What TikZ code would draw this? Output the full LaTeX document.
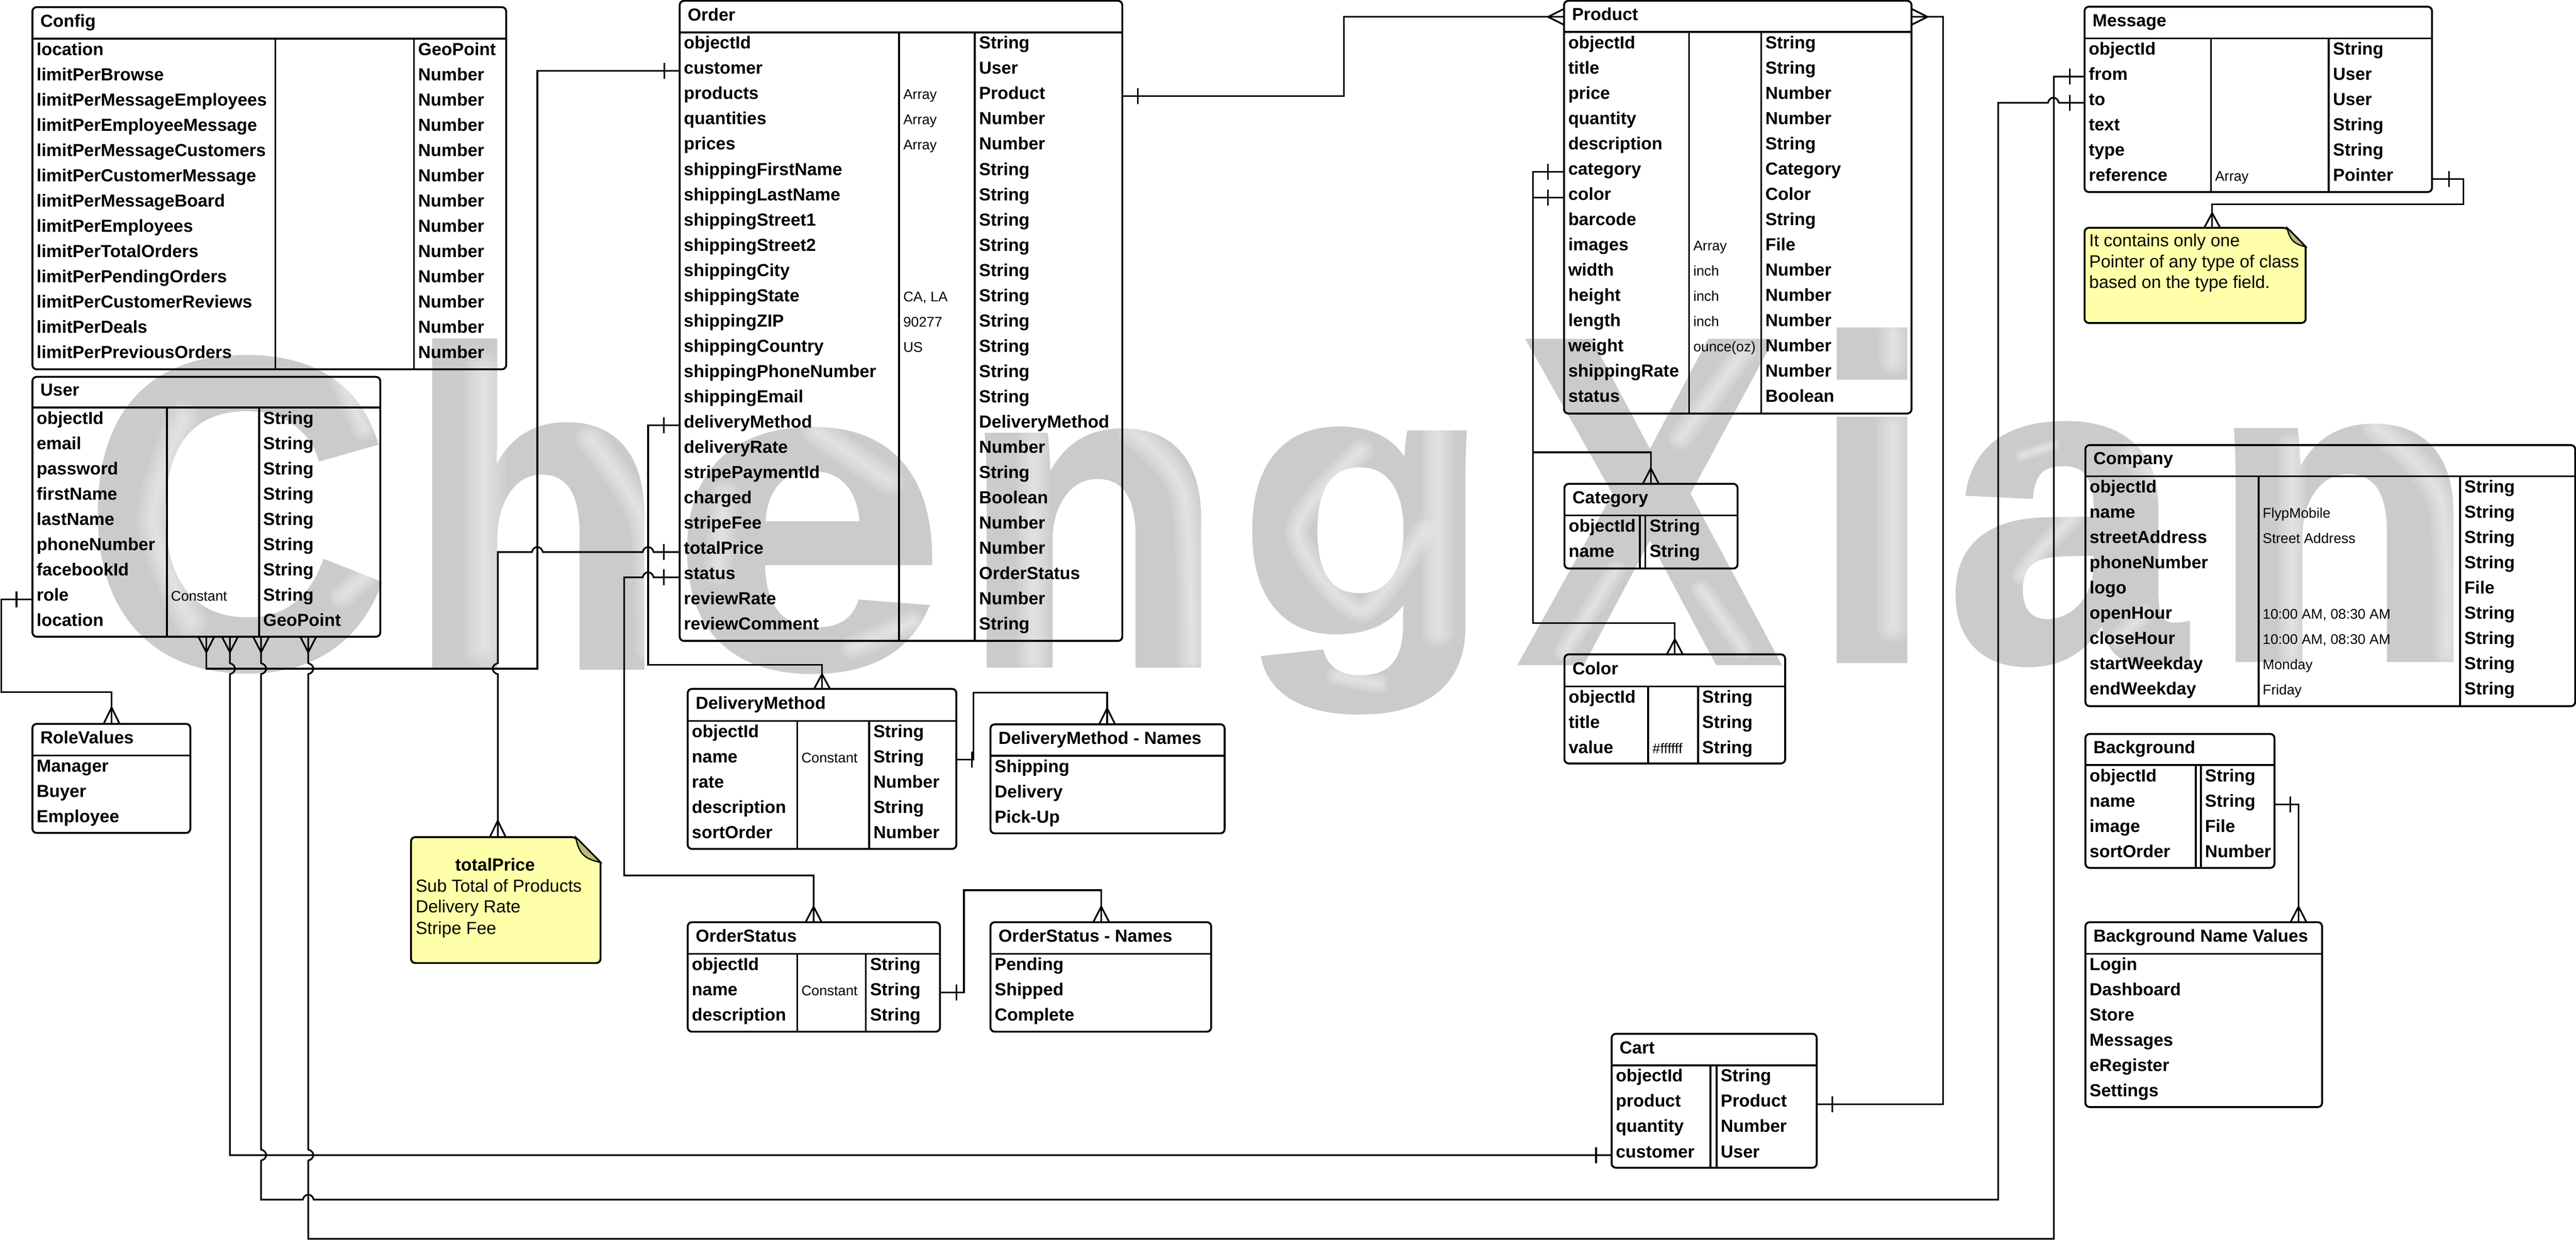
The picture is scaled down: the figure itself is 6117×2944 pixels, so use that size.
\documentclass[tikz,border=0pt]{standalone}
\usepackage{fontspec}
\usepackage{graphicx}
\setmainfont{Liberation Sans}
\newfontfamily\wmfont{Liberation Sans Bold}[FakeBold=1.4]
\definecolor{notefill}{RGB}{255,255,170}
\definecolor{notefold}{RGB}{190,185,120}
\definecolor{wmark}{RGB}{203,203,203}
\tikzset{
  every node/.style={inner sep=0pt,outer sep=0pt},
  tablebox/.style={draw=black,line width=4.5pt,rounded corners=10pt},
  rule/.style={line width=4.5pt},
  conn/.style={draw=black,line width=4pt},
  boldtxt/.style={anchor=base west,font=\bfseries\fontsize{41.5}{50}\selectfont},
  smalltxt/.style={anchor=base west,font=\fontsize{33.3}{40}\selectfont},
  notetxt/.style={anchor=base west,font=\fontsize{41.5}{50}\selectfont},
  wmletter/.style={anchor=base west,text=wmark,font=\wmfont\fontsize{1065}{1200}\selectfont},
}
\def\setgeo#1,#2,#3,#4,#5;{\def\gL{#1}\def\gT{#2}\def\gR{#3}\def\gB{#4}\def\gH{#5}}
\def\setcol#1,#2;{\def\cA{#1}\def\cB{#2}}
\newcommand\tablehead[2]{%
  \node[tablebox,minimum width={(\gR-\gL)*1pt},minimum height={(\gB-\gT)*1pt}] (#1) at ({(\gL+\gR)/2},{(\gT+\gB)/2}) {};
  \draw[rule] (#1.west |- 0,\gH) -- (#1.east |- 0,\gH);
  \node[boldtxt] (#1-title) at ({\gL+19},{\gH-28}) {#2};
}
% name; l,t,r,b,header; title; col1,col2; rows
\newcommand\ertable[5]{%
  \setgeo#2;\setcol#4;
  \tablehead{#1}{#3}
  \draw[rule] (\cA,\gH) -- (\cA,\gB);
  \draw[rule] (\cB,\gH) -- (\cB,\gB);
  \foreach \fa/\fb/\fc [count=\ri from 0] in {#5}{
    \node[boldtxt] (#1-a\ri) at ({\gL+10},{\gH+39+60*\ri}) {\fa};
    \ifx\fb\empty\else\node[smalltxt] (#1-b\ri) at ({\cA+10},{\gH+39+60*\ri}) {\fb};\fi
    \node[boldtxt] (#1-c\ri) at ({\cB+10},{\gH+39+60*\ri}) {\fc};
  }
}
\newcommand\ervalues[4]{%
  \setgeo#2;
  \tablehead{#1}{#3}
  \foreach \fa [count=\ri from 0] in {#4}{
    \node[boldtxt] (#1-a\ri) at ({\gL+10},{\gH+39+60*\ri}) {\fa};
  }
}
% hops: x,y,direction / side
\newcommand\hopH[3]{-- ({#1-13*#3},#2) .. controls ({#1-9*#3},{#2-16}) and ({#1+9*#3},{#2-16}) .. ({#1+13*#3},#2)}
\newcommand\hopV[3]{-- (#1,{#2-13}) .. controls ({#1+16*#3},{#2-9}) and ({#1+16*#3},{#2+9}) .. (#1,{#2+13})}
\newcommand\tick[2]{\draw[conn] (#1,{#2-19}) -- (#1,{#2+19});}
\newcommand\crowV[3]{\draw[conn] ({#1-19},#3) -- (#1,#2) -- ({#1+19},#3);}
\newcommand\crowH[3]{\draw[conn] (#2,{#3-19}) -- (#1,#3) -- (#2,{#3+19});}
% soft white highlight on the watermark: invisible on the white ground
\newcommand\softline[2]{\foreach \sw in {1,.85,.7,.55,.4,.25,.1}{\draw[white,draw opacity=.085,line width={\sw*#1*1pt},line cap=round,line join=round] plot[smooth] coordinates {#2};}}
\begin{document}
\begin{tikzpicture}[x=1pt,y=-1pt]
\useasboundingbox (0,0) rectangle (6117,2944);
\fill[white] (0,0) rectangle (6117,2944);
% watermark
\node[wmletter] (wmC) at (198,1582) {\scalebox{.947}[.984]{C}};
\node[wmletter] (wmH) at (962,1583) {\scalebox{.96}[1]{h}};
\node[wmletter] (wmE) at (1594,1583) {\scalebox{1.1}[.98]{e}};
\node[wmletter] (wmN) at (2278,1578) {\scalebox{.97}[.965]{n}};
\node[wmletter] (wmG) at (2940,1501) {\scalebox{.925}[.84]{g}};
\node[wmletter] (wmX) at (3607,1572) {\scalebox{.874}[1.037]{X}};
\node[wmletter] (wmI) at (4292,1567) {\scalebox{1.04}[1.013]{i}};
\node[wmletter] (wmA) at (4621,1567) {\scalebox{.955}[.977]{a}};
\node[wmletter] (wmM) at (5243,1565) {\scalebox{.985}[.962]{n}};
% emboss highlights
\softline{80}{(436,992) (364,1235) (454,1477)}
\softline{60}{(811,901) (864,1017)}
\softline{60}{(811,1417) (882,1356)}
\softline{100}{(1150,883) (1150,1538)}
\softline{70}{(1400,1041) (1525,1235) (1543,1538)}
\softline{70}{(1722,1174) (1704,1356)}
\softline{70}{(1936,1023) (2114,1144)}
\softline{60}{(2025,1538) (2168,1477)}
\softline{80}{(2454,1053) (2454,1568)}
\softline{70}{(2686,1023) (2811,1174) (2829,1568)}
\softline{80}{(3414,1005) (3414,1500)}
\softline{60}{(3232,1070) (3080,1260) (3232,1450) (3380,1260)}
\softline{50}{(3174,1605) (3273,1624)}
\softline{60}{(4143,833) (3990,1040)}
\softline{50}{(3837,1354) (3714,1548)}
\softline{50}{(4040,1400) (4140,1540)}
\softline{80}{(4495,1015) (4495,1488)}
\softline{70}{(4495,791) (4495,858)}
\softline{50}{(4800,1366) (4846,1306) (4923,1227)}
\softline{50}{(5030,1518) (5091,1458)}
\softline{70}{(5060,1076) (5168,1185)}
\softline{30}{(4800,1082) (4877,1057)}
\softline{70}{(5443,1060) (5443,1550)}
\softline{70}{(5642,1015) (5795,1185) (5810,1548)}

\ertable{Config}{77,17,1202,877,92}{Config}{654,983}{location//GeoPoint,limitPerBrowse//Number,limitPerMessageEmployees//Number,limitPerEmployeeMessage//Number,limitPerMessageCustomers//Number,limitPerCustomerMessage//Number,limitPerMessageBoard//Number,limitPerEmployees//Number,limitPerTotalOrders//Number,limitPerPendingOrders//Number,limitPerCustomerReviews//Number,limitPerDeals//Number,limitPerPreviousOrders//Number}

\ertable{User}{77,895,903,1512,968}{User}{396,615}{objectId//String,email//String,password//String,firstName//String,lastName//String,phoneNumber//String,facebookId//String,role/Constant/String,location//GeoPoint}

\ervalues{RoleValues}{77,1719,452,1978,1794}{RoleValues}{Manager,Buyer,Employee}

\ertable{Order}{1614,2,2665,1522,77}{Order}{2135,2315}{objectId//String,customer//User,products/Array/Product,quantities/Array/Number,prices/Array/Number,shippingFirstName//String,shippingLastName//String,shippingStreet1//String,shippingStreet2//String,shippingCity//String,shippingState/{CA, LA}/String,shippingZIP/90277/String,shippingCountry/US/String,shippingPhoneNumber//String,shippingEmail//String,deliveryMethod//DeliveryMethod,deliveryRate//Number,stripePaymentId//String,charged//Boolean,stripeFee//Number,totalPrice//Number,status//OrderStatus,reviewRate//Number,reviewComment//String}

\ertable{DeliveryMethod}{1633,1636,2271,2016,1712}{DeliveryMethod}{1893,2064}{objectId//String,name/Constant/String,rate//Number,description//String,sortOrder//Number}
\ervalues{DeliveryNames}{2352,1720,2908,1979,1795}{DeliveryMethod - Names}{Shipping,Delivery,Pick-Up}
\ertable{OrderStatus}{1633,2190,2232,2450,2265}{OrderStatus}{1893,2056}{objectId//String,name/Constant/String,description//String}
\ervalues{StatusNames}{2352,2190,2876,2450,2265}{OrderStatus - Names}{Pending,Shipped,Complete}

\ertable{Product}{3714,2,4539,982,76}{Product}{4011,4182}{objectId//String,title//String,price//Number,quantity//Number,description//String,category//Category,color//Color,barcode//String,images/Array/File,width/inch/Number,height/inch/Number,length/inch/Number,weight/ounce(oz)/Number,shippingRate//Number,status//Boolean}
\ertable{Category}{3715,1149,4126,1350,1224}{Category}{3894,3907}{objectId//String,name//String}
\ertable{Color}{3715,1554,4239,1813,1630}{Color}{3914,4032}{objectId//String,title//String,value/\#ffffff/String}
\ertable{Cart}{3827,2455,4314,2773,2530}{Cart}{4062,4076}{objectId//String,product//Product,quantity//Number,customer//User}

\ertable{Message}{4950,16,5775,456,91}{Message}{5250,5530}{objectId//String,from//User,to//User,text//String,type//String,reference/Array/Pointer}
\ertable{Company}{4952,1057,6115,1677,1131}{Company}{5363,5842}{objectId//String,name/FlypMobile/String,streetAddress/Street Address/String,phoneNumber//String,logo//File,openHour/{10:00 AM, 08:30 AM}/String,closeHour/{10:00 AM, 08:30 AM}/String,startWeekday/Monday/String,endWeekday/Friday/String}
\ertable{Background}{4952,1743,5401,2061,1817}{Background}{5214,5226}{objectId//String,name//String,image//File,sortOrder//Number}
\ervalues{BackgroundNames}{4952,2190,5514,2629,2265}{Background Name Values}{Login,Dashboard,Store,Messages,eRegister,Settings}

% notes
\node[minimum width=450pt,minimum height=299pt] (NoteTotal) at (1201,2137.5) {};
\draw[line width=4.5pt,fill=notefill,rounded corners=10pt] (976,1988) -- (1367,1988) [sharp corners] -- (1426,2048) [rounded corners=10pt] -- (1426,2287) -- (976,2287) -- cycle;
\draw[line width=3pt,fill=notefold] (1367,1988) .. controls (1375,2030) and (1390,2040) .. (1426,2048) -- cycle;
\node[notetxt,font=\bfseries\fontsize{41.5}{50}\selectfont] (NoteTotalA) at (1081,2068) {totalPrice};
\node[notetxt] (NoteTotalB) at (987,2118) {Sub Total of Products};
\node[notetxt] (NoteTotalC) at (987,2167) {Delivery Rate};
\node[notetxt] (NoteTotalD) at (987,2218) {Stripe Fee};

\node[minimum width=525pt,minimum height=226pt] (NotePointer) at (5212.5,654) {};
\draw[line width=4.5pt,fill=notefill,rounded corners=10pt] (4950,541) -- (5431,541) [sharp corners] -- (5475,586) [rounded corners=10pt] -- (5475,767) -- (4950,767) -- cycle;
\draw[line width=3pt,fill=notefold] (5431,541) .. controls (5437,570) and (5448,580) .. (5475,586) -- cycle;
\node[notetxt] (NotePointerA) at (4961,586) {It contains only one};
\node[notetxt] (NotePointerB) at (4961,635) {Pointer of any type of class};
\node[notetxt] (NotePointerC) at (4961,685) {based on the type field.};

% ports
\coordinate (pUserRole) at (User.west |- 0,1423);
\coordinate (pRoleTop) at (RoleValues.north -| 265,0);
\coordinate (pUserA) at (User.south -| 490,0);
\coordinate (pUserB) at (User.south -| 546,0);
\coordinate (pUserC) at (User.south -| 620,0);
\coordinate (pUserD) at (User.south -| 732,0);
\coordinate (pCustomer) at (Order.west |- 0,168);
\coordinate (pDelivery) at (Order.west |- 0,1010);
\coordinate (pTotal) at (Order.west |- 0,1311);
\coordinate (pStatus) at (Order.west |- 0,1371);
\coordinate (pProducts) at (Order.east |- 0,228);
\coordinate (pNoteTotal) at (NoteTotal.north -| 1182,0);
\coordinate (pCartCustomer) at (Cart.west |- 0,2743);
\coordinate (pCartProduct) at (Cart.east |- 0,2622);
\coordinate (pMsgFrom) at (Message.west |- 0,182);
\coordinate (pMsgTo) at (Message.west |- 0,244);
\coordinate (pMsgRef) at (Message.east |- 0,425);
\coordinate (pNotePointer) at (NotePointer.north -| 5253,0);
\coordinate (pDMTop) at (DeliveryMethod.north -| 1952,0);
\coordinate (pDMRight) at (DeliveryMethod.east |- 0,1804);
\coordinate (pDNTop) at (DeliveryNames.north -| 2629,0);
\coordinate (pOSTop) at (OrderStatus.north -| 1932,0);
\coordinate (pOSRight) at (OrderStatus.east |- 0,2357);
\coordinate (pSNTop) at (StatusNames.north -| 2615,0);
\coordinate (pProdL) at (Product.west |- 0,40);
\coordinate (pProdR) at (Product.east |- 0,40);
\coordinate (pProdCat) at (Product.west |- 0,408);
\coordinate (pProdCol) at (Product.west |- 0,469);
\coordinate (pCatTop) at (Category.north -| 3920,0);
\coordinate (pColTop) at (Color.north -| 3977,0);
\coordinate (pBgRight) at (Background.east |- 0,1910);
\coordinate (pBNTop) at (BackgroundNames.north -| 5458,0);

% connectors
\draw[conn] (pUserRole) -- (3,1423) -- (3,1644) -- (265,1644) -- (pRoleTop);
\tick{39}{1423} \crowV{265}{1680}{1719}
\draw[conn] (pUserA) -- (490,1588) -- (1276,1588) -- (1276,168) -- (pCustomer);
\crowV{490}{1549}{1512} \tick{1578}{168}
\draw[conn] (pUserB) \hopV{546}{1588}{1} -- (546,2743) -- (pCartCustomer);
\crowV{546}{1549}{1512} \tick{3790}{2743}
\draw[conn] (pUserC) \hopV{620}{1588}{1} \hopV{620}{2743}{1} -- (620,2849) \hopH{732}{2849}{1} -- (4745,2849) -- (4745,244) \hopH{4876}{244}{1} -- (pMsgTo);
\crowV{620}{1549}{1512} \tick{4915}{244}
\draw[conn] (pUserD) \hopV{732}{1588}{1} \hopV{732}{2743}{1} -- (732,2942) -- (4877,2942) -- (4877,182) -- (pMsgFrom);
\crowV{732}{1549}{1512} \tick{4915}{182}
\draw[conn] (pTotal) \hopH{1539}{1311}{-1} \hopH{1276}{1311}{-1} -- (1182,1311) \hopV{1182}{1588}{-1} -- (pNoteTotal);
\tick{1576}{1311} \crowV{1182}{1949}{1988}
\draw[conn] (pStatus) \hopH{1539}{1371}{-1} -- (1482,1371) -- (1482,2079) -- (1932,2079) -- (pOSTop);
\tick{1576}{1371} \crowV{1932}{2153}{2190}
\draw[conn] (pDelivery) -- (1539,1010) -- (1539,1579) -- (1952,1579) -- (pDMTop);
\tick{1576}{1010} \crowV{1952}{1601}{1636}
\draw[conn] (pDMRight) -- (2312,1804) -- (2312,1645) -- (2629,1645) -- (pDNTop);
\tick{2308}{1804} \crowV{2629}{1682}{1720}
\draw[conn] (pOSRight) -- (2289,2357) -- (2289,2114) -- (2615,2114) -- (pSNTop);
\tick{2271}{2357} \crowV{2615}{2153}{2190}
\draw[conn] (pProducts) -- (3191,228) -- (3191,40) -- (pProdL);
\tick{2702}{228} \crowH{3676}{3714}{40}
\draw[conn] (pProdR) -- (4614,40) -- (4614,2622) -- (pCartProduct);
\crowH{4577}{4539}{40} \tick{4351}{2622}
\draw[conn] (pProdCat) -- (3640,408) -- (3640,1074) -- (3920,1074) -- (pCatTop);
\tick{3676}{408} \crowV{3920}{1112}{1149}
\draw[conn] (pProdCol) -- (3640,469) -- (3640,1480) -- (3977,1480) -- (pColTop);
\tick{3676}{469} \crowV{3977}{1518}{1554}
\draw[conn] (pMsgRef) -- (5850,425) -- (5850,485) -- (5253,485) -- (pNotePointer);
\tick{5815}{425} \crowV{5253}{506}{541}
\draw[conn] (pBgRight) -- (5458,1910) -- (pBNTop);
\tick{5439}{1910} \crowV{5458}{2153}{2190}
\end{tikzpicture}
\end{document}
